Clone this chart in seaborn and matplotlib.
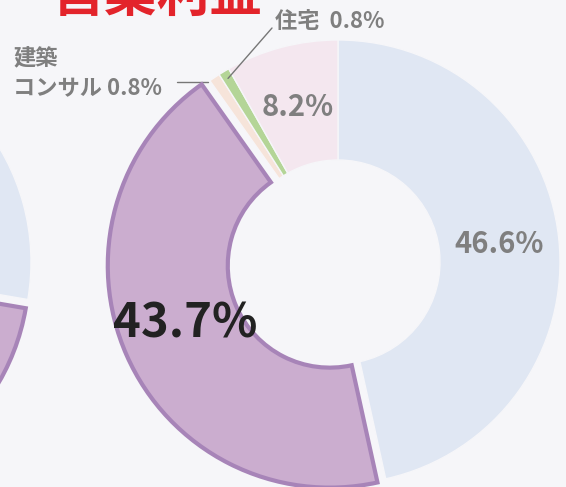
import matplotlib
matplotlib.use("Agg")
import matplotlib.pyplot as plt
import numpy as np
import seaborn as sns

# 営業利益 の構成比 (時計回り, 上から)
segments = ["A", "B", "建築\nコンサル", "住宅", "C"]
values = [46.6, 43.7, 0.8, 0.8, 8.2]
colors = ["#e0e7f3", "#cbadcf", "#f6e4da", "#b4d597", "#f4e7ef"]

# 左側 (一部だけ見えるドーナツ)
left_values = [27.7, 52.0, 6.0, 4.0, 10.3]

BG = "#f6f6f9"
PURPLE_EDGE = "#a784b8"
GRAY = "#7f7f7f"

sns.set_theme(style="white", rc={"figure.facecolor": BG, "axes.facecolor": BG})
plt.rcParams["font.family"] = ["Noto Sans CJK JP", "DejaVu Sans"]

fig = plt.figure(figsize=(5.66, 4.87), dpi=100)
ax = fig.add_axes([0, 0, 1, 1])

R, W = 222, 120
wp = dict(width=W, linewidth=1, edgecolor=BG)
wl, _ = ax.pie(left_values, colors=colors, radius=R, center=(-191, 225),
               startangle=90, counterclock=False, explode=[0, 9, 0, 0, 0],
               wedgeprops=wp)
wr, _ = ax.pie(values, colors=colors, radius=R, center=(338, 225),
               startangle=90, counterclock=False, explode=[0, 9, 0, 0, 0],
               wedgeprops=wp)
for w in (wl[1], wr[1]):
    w.set_edgecolor(PURPLE_EDGE)
    w.set_linewidth(3)
    w.set_zorder(3)

ax.set_xlim(0, 566)
ax.set_ylim(0, 487)
ax.set_aspect("equal")
ax.axis("off")


def point(w, r):
    a = np.deg2rad((w.theta1 + w.theta2) / 2)
    return w.center[0] + r * np.cos(a), w.center[1] + r * np.sin(a)


# 大きいラベル
for i, size, col, dx, dy in [(0, 21, GRAY, 0, 0), (1, 34, "#222222", 4, 8),
                             (4, 21, GRAY, 1, -2)]:
    x, y = point(wr[i], R - W / 2)
    ax.text(x + dx, y + dy, f"{values[i]}%", ha="center", va="center",
            fontsize=size, color=col, weight="bold", zorder=5)

# 小さいラベル (引き出し線)
x, y = point(wr[3], R - 8)
ax.plot([x, 272], [y, 487 - 28], color="#777777", lw=1)
ax.text(275, 487 - 22, f"{segments[3]}  {values[3]}%", ha="left", va="center",
        fontsize=16, color=GRAY, weight="bold")

x, y = point(wr[2], R)
ax.plot([177, x - 6], [y - 4, y - 4], color="#777777", lw=1)
ax.text(13, 487 - 74, f"{segments[2]} {values[2]}%", ha="left", va="center",
        fontsize=16, color=GRAY, weight="bold", linespacing=1.35)

fig.text(157 / 566, 0.975, "営業利益", ha="center", va="baseline",
         fontsize=38, color="#e3242b", weight="bold")

fig.savefig("out.png", dpi=100, facecolor=BG)
